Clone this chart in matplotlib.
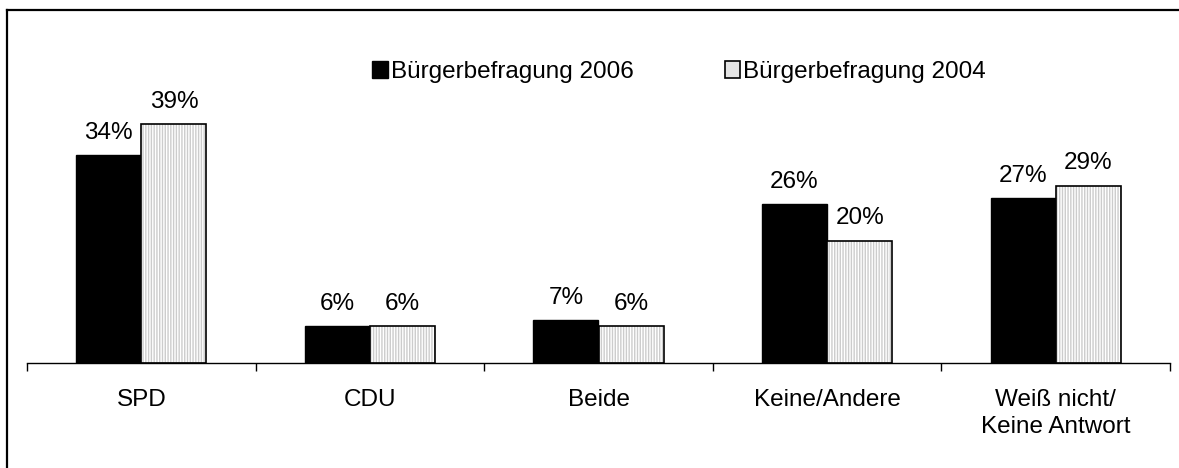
import numpy as np
import matplotlib.pyplot as plt
from matplotlib.lines import Line2D
from matplotlib.patches import Patch

plt.rcParams['font.family'] = ['Liberation Sans', 'DejaVu Sans']

kategorien = ['SPD', 'CDU', 'Beide', 'Keine/Andere', 'Weiß nicht/\nKeine Antwort']
werte_2006 = [34, 6, 7, 26, 27]
werte_2004 = [39, 6, 6, 20, 29]
label_2006 = 'Bürgerbefragung 2006'
label_2004 = 'Bürgerbefragung 2004'

fs = 17.5

fig = plt.figure(figsize=(11.79, 4.68), dpi=100)
ax = fig.add_axes([27 / 1179, 1 - 363 / 468, 1143 / 1179, 306 / 468])

x = np.arange(len(kategorien))
b = 0.285

# schwarze Balken 2006
ax.bar(x - b / 2, werte_2006, b, color='black', edgecolor='black', linewidth=1)
# gepunktete Balken 2004
ax.bar(x + b / 2, werte_2004, b, color='white', edgecolor='#cccccc', hatch='||||||', linewidth=0)
ax.bar(x + b / 2, werte_2004, b, fill=False, edgecolor='black', linewidth=1.2)

for i in range(len(x)):
    ax.annotate(f'{werte_2006[i]}%', (x[i] - b / 2, werte_2006[i]), xytext=(0, 8),
                textcoords='offset points', ha='center', va='bottom', fontsize=fs)
    ax.annotate(f'{werte_2004[i]}%', (x[i] + b / 2, werte_2004[i]), xytext=(0, 8),
                textcoords='offset points', ha='center', va='bottom', fontsize=fs)

ax.set_xlim(-0.5, len(x) - 0.5)
ax.set_ylim(0, 50)
ax.set_yticks([])
for s in ['top', 'right', 'left']:
    ax.spines[s].set_visible(False)
ax.spines['bottom'].set_linewidth(1)

ax.set_xticks(x)
ax.set_xticklabels(kategorien, fontsize=fs, linespacing=1.3, va='top')
ax.tick_params(axis='x', which='major', length=0, pad=19)
ax.set_xticks(np.arange(len(x) + 1) - 0.5, minor=True)
ax.tick_params(axis='x', which='minor', length=6, width=1, direction='out')

handles = [Patch(facecolor='black', edgecolor='black'),
           Patch(facecolor='#e4e4e4', edgecolor='black', linewidth=1.2)]
fig.legend(handles, [label_2006, label_2004], loc='center left',
           bbox_to_anchor=(372 / 1179, 1 - 72 / 468), ncol=2, frameon=False,
           fontsize=fs, handlelength=0.65, handleheight=0.65, handletextpad=0.12,
           columnspacing=3.75, borderaxespad=0, borderpad=0)

# Rahmen oben und links
fig.add_artist(Line2D([7 / 1179, 1], [1 - 10 / 468, 1 - 10 / 468], color='black', linewidth=1.6))
fig.add_artist(Line2D([7 / 1179, 7 / 1179], [0, 1 - 10 / 468], color='black', linewidth=1.6))

fig.savefig('out.png', dpi=100)
